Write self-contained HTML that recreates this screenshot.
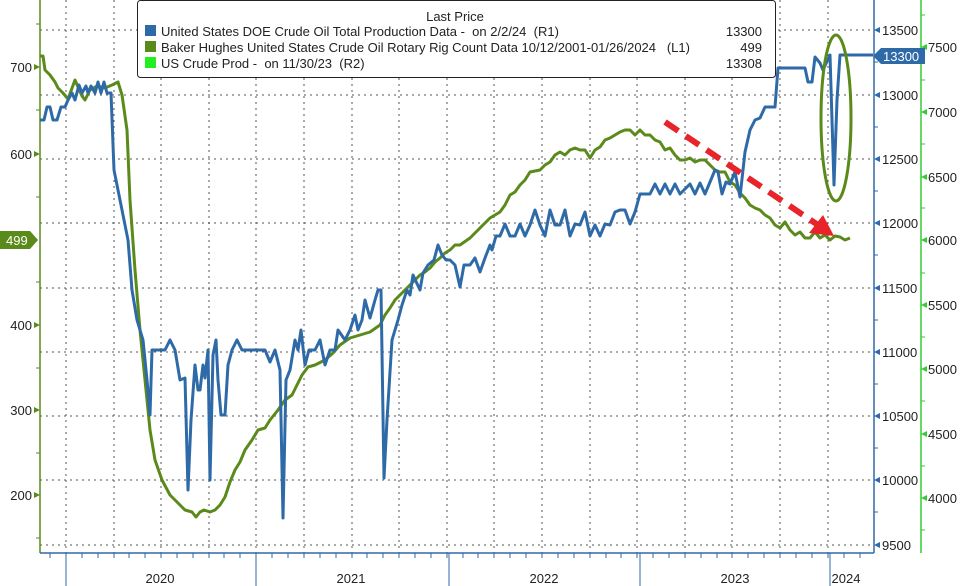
<!DOCTYPE html>
<html><head><meta charset="utf-8"><style>
body{margin:0;background:#fff;}
svg{display:block;font-family:"Liberation Sans",sans-serif;}
text{white-space:pre;}
</style></head><body>
<svg width="969" height="586" viewBox="0 0 969 586">
<g stroke="#555" stroke-width="1" stroke-dasharray="2,4" fill="none">
<line x1="40" y1="30" x2="874" y2="30"/><line x1="40" y1="95" x2="874" y2="95"/><line x1="40" y1="159" x2="874" y2="159"/><line x1="40" y1="223" x2="874" y2="223"/><line x1="40" y1="288" x2="874" y2="288"/><line x1="40" y1="352" x2="874" y2="352"/><line x1="40" y1="416" x2="874" y2="416"/><line x1="40" y1="480" x2="874" y2="480"/><line x1="40" y1="545" x2="874" y2="545"/>
<line x1="66" y1="0" x2="66" y2="553"/><line x1="114" y1="0" x2="114" y2="553"/><line x1="161" y1="0" x2="161" y2="553"/><line x1="209" y1="0" x2="209" y2="553"/><line x1="256" y1="0" x2="256" y2="553"/><line x1="304" y1="0" x2="304" y2="553"/><line x1="352" y1="0" x2="352" y2="553"/><line x1="399" y1="0" x2="399" y2="553"/><line x1="447" y1="0" x2="447" y2="553"/><line x1="494" y1="0" x2="494" y2="553"/><line x1="542" y1="0" x2="542" y2="553"/><line x1="590" y1="0" x2="590" y2="553"/><line x1="637" y1="0" x2="637" y2="553"/><line x1="685" y1="0" x2="685" y2="553"/><line x1="732" y1="0" x2="732" y2="553"/><line x1="780" y1="0" x2="780" y2="553"/><line x1="828" y1="0" x2="828" y2="553"/>
</g>
<line x1="40" y1="0" x2="40" y2="553" stroke="#5a8a1a" stroke-width="1.5"/>
<line x1="874" y1="0" x2="874" y2="553" stroke="#2f6aa8" stroke-width="1.5"/>
<line x1="921" y1="0" x2="921" y2="553" stroke="#33cc33" stroke-width="1.5"/>
<line x1="40" y1="553" x2="874" y2="553" stroke="#2f6aa8" stroke-width="1.5"/>
<g stroke="#2f6aa8" stroke-width="1">
<line x1="66" y1="553" x2="66" y2="586"/><line x1="256" y1="553" x2="256" y2="586"/><line x1="449" y1="553" x2="449" y2="586"/><line x1="640" y1="553" x2="640" y2="586"/><line x1="830" y1="553" x2="830" y2="586"/>
</g>
<g stroke="#2f6aa8" stroke-width="1">
<path d="M50 553v5M66 553v5M82 553v5M98 553v5M114 553v5M129 553v5M145 553v5M161 553v5M177 553v5M193 553v5M209 553v5M224 553v5M240 553v5M256 553v5M272 553v5M288 553v5M304 553v5M320 553v5M336 553v5M352 553v5M367 553v5M383 553v5M399 553v5M415 553v5M431 553v5M447 553v5M463 553v5M478 553v5M494 553v5M510 553v5M526 553v5M542 553v5M558 553v5M574 553v5M590 553v5M606 553v5M621 553v5M637 553v5M653 553v5M669 553v5M685 553v5M701 553v5M717 553v5M732 553v5M748 553v5M764 553v5M780 553v5M796 553v5M812 553v5M828 553v5M844 553v5M860 553v5"/>
</g>
<g font-size="13" fill="#222" text-anchor="middle">
<text x="160" y="583">2020</text><text x="351" y="583">2021</text><text x="544" y="583">2022</text><text x="735" y="583">2023</text><text x="846" y="583">2024</text>
</g>
<g fill="#5a8a1a">
<path d="M40 67l-6 -3v6z"/><path d="M40 154l-6 -3v6z"/><path d="M40 325l-6 -3v6z"/><path d="M40 410l-6 -3v6z"/><path d="M40 495l-6 -3v6z"/>
</g>
<g stroke="#5a8a1a"><path d="M36 24h4M36 110h4M36 197h4M36 282h4M36 368h4M36 453h4M36 538h4"/></g>
<g font-size="13" fill="#222" text-anchor="end">
<text x="32" y="72">700</text><text x="32" y="159">600</text><text x="32" y="330">400</text><text x="32" y="415">300</text><text x="32" y="500">200</text>
</g>
<path d="M0 231h30l8 9l-8 9h-30z" fill="#5a8a1a"/>
<text x="6" y="245" font-size="13" fill="#fff">499</text>
<g fill="#2f6aa8">
<path d="M874 30l6 -3v6z"/><path d="M874 95l6 -3v6z"/><path d="M874 159l6 -3v6z"/><path d="M874 223l6 -3v6z"/><path d="M874 288l6 -3v6z"/><path d="M874 352l6 -3v6z"/><path d="M874 416l6 -3v6z"/><path d="M874 480l6 -3v6z"/><path d="M874 545l6 -3v6z"/>
</g>
<g stroke="#2f6aa8"><path d="M874 62h4M874 127h4M874 191h4M874 255h4M874 320h4M874 384h4M874 448h4M874 512h4"/></g>
<g font-size="13" fill="#222">
<text x="882" y="35">13500</text><text x="882" y="100">13000</text><text x="882" y="164">12500</text><text x="882" y="228">12000</text><text x="882" y="293">11500</text><text x="882" y="357">11000</text><text x="882" y="421">10500</text><text x="882" y="485">10000</text><text x="882" y="550">9500</text>
</g>
<g fill="#33cc33">
<path d="M921 47l6 -3v6z"/><path d="M921 112l6 -3v6z"/><path d="M921 177l6 -3v6z"/><path d="M921 240l6 -3v6z"/><path d="M921 305l6 -3v6z"/><path d="M921 369l6 -3v6z"/><path d="M921 434l6 -3v6z"/><path d="M921 498l6 -3v6z"/>
</g>
<g stroke="#33cc33"><path d="M921 15h4M921 80h4M921 144h4M921 208h4M921 273h4M921 337h4M921 401h4M921 466h4M921 530h4"/></g>
<g font-size="13" fill="#222">
<text x="928" y="52">7500</text><text x="928" y="117">7000</text><text x="928" y="182">6500</text><text x="928" y="245">6000</text><text x="928" y="310">5500</text><text x="928" y="374">5000</text><text x="928" y="439">4500</text><text x="928" y="503">4000</text>
</g>
<polyline fill="none" stroke="#5a8a1a" stroke-width="3" stroke-linejoin="round" points="40,56 43,56 45,70 50,75 55,82 58,88 63,93 68,99 75,80 82,96 85,100 90,90 97,86 105,88 112,85 118,82 122,95 127,130 130,200 135,270 140,330 145,380 150,430 155,460 162,480 170,495 180,505 185,510 192,512 196,517 200,512 204,510 210,512 215,510 220,505 225,497 230,482 235,470 240,462 245,450 252,440 258,430 265,428 270,420 278,410 285,400 292,395 297,385 302,375 308,367 315,365 325,360 333,353 340,345 350,338 360,335 370,332 380,325 385,315 390,308 395,300 400,295 405,290 410,285 415,280 420,275 425,272 430,268 435,262 440,258 445,253 450,250 455,245 460,245 470,238 480,228 490,218 500,212 505,205 510,195 515,192 520,185 525,180 530,172 540,170 545,165 550,162 555,155 560,152 565,155 570,150 575,148 580,150 585,150 590,158 595,150 600,147 605,140 610,138 615,135 620,132 625,130 630,130 635,135 640,130 645,135 650,135 655,140 660,142 665,150 670,148 675,155 680,160 685,160 690,158 695,162 700,160 705,160 710,165 715,170 720,172 725,172 730,182 735,185 740,193 745,198 750,205 755,208 760,210 765,215 770,218 775,225 780,228 785,222 790,230 795,235 800,232 805,238 810,238 815,232 820,238 825,235 830,240 835,236 840,237 845,240 850,238"/>
<polyline fill="none" stroke="#2f6aa8" stroke-width="3" stroke-linejoin="round" points="40,120 44,120 47,107 50,107 53,120 57,120 61,107 65,107 68,100 72,93 75,100 79,85 82,93 86,86 88,93 91,86 95,93 98,82 101,93 104,82 107,93 111,93 114,170 120,200 128,240 132,290 137,320 143,340 147,380 150,415 152,350 165,350 170,340 175,350 180,380 185,378 188,490 191,420 195,365 198,390 200,390 203,365 205,378 208,350 210,480 213,355 216,340 218,380 221,415 225,415 228,365 232,350 237,340 242,350 265,350 270,362 275,350 280,370 283,518 286,380 290,370 295,340 298,350 301,330 305,365 309,350 315,350 320,340 325,365 330,350 335,350 338,330 345,340 350,330 355,315 358,330 362,320 365,300 370,318 375,300 378,290 381,290 384,478 387,420 392,340 398,320 402,305 407,290 410,295 413,275 420,290 423,273 428,265 434,260 438,245 442,255 446,260 450,260 455,265 460,287 464,265 470,265 475,258 480,272 485,258 490,245 492,250 496,236 500,236 505,224 510,236 515,236 520,224 525,236 530,225 535,210 540,225 545,236 550,210 555,225 560,225 565,210 570,236 575,224 580,225 585,212 590,236 595,225 600,236 605,224 610,225 615,212 620,210 625,210 630,224 635,212 640,194 650,194 655,184 660,194 665,184 670,194 675,184 680,194 690,184 695,194 700,183 705,194 710,182 715,170 718,172 722,194 726,182 730,184 735,172 740,197 745,152 750,130 755,120 760,118 765,107 775,107 778,68 805,68 808,82 812,82 815,57 820,63 823,70 830,55 834,185 837,100 840,55 873,55"/>
<path d="M873 56l8 -8h44v16h-44z" fill="#2f6aa8"/>
<text x="883" y="61" font-size="13" fill="#fff">13300</text>
<line x1="665" y1="122" x2="818" y2="225" stroke="#e8232a" stroke-width="6" stroke-dasharray="16,9"/>
<path d="M834 236l-25 -3l14 -18z" fill="#e8232a"/>
<ellipse cx="836" cy="118" rx="15" ry="83" fill="none" stroke="#5a8a1a" stroke-width="3"/>
<rect x="137.5" y="0.5" width="638" height="77" rx="3" fill="#fff" stroke="#222"/>
<text x="455" y="21" font-size="13" fill="#222" text-anchor="middle">Last Price</text>
<rect x="145" y="25" width="11" height="11" fill="#2f6aa8"/>
<rect x="145" y="41" width="11" height="11" fill="#5a8a1a"/>
<rect x="145" y="57" width="11" height="11" fill="#22ee22"/>
<g font-size="13" fill="#222">
<text x="161" y="36">United States DOE Crude Oil Total Production Data -  on 2/2/24  (R1)</text>
<text x="161" y="52">Baker Hughes United States Crude Oil Rotary Rig Count Data 10/12/2001-01/26/2024   (L1)</text>
<text x="161" y="68">US Crude Prod -  on 11/30/23  (R2)</text>
</g>
<g font-size="13" fill="#222" text-anchor="end">
<text x="762" y="36">13300</text><text x="762" y="52">499</text><text x="762" y="68">13308</text>
</g>
</svg>
</body></html>
